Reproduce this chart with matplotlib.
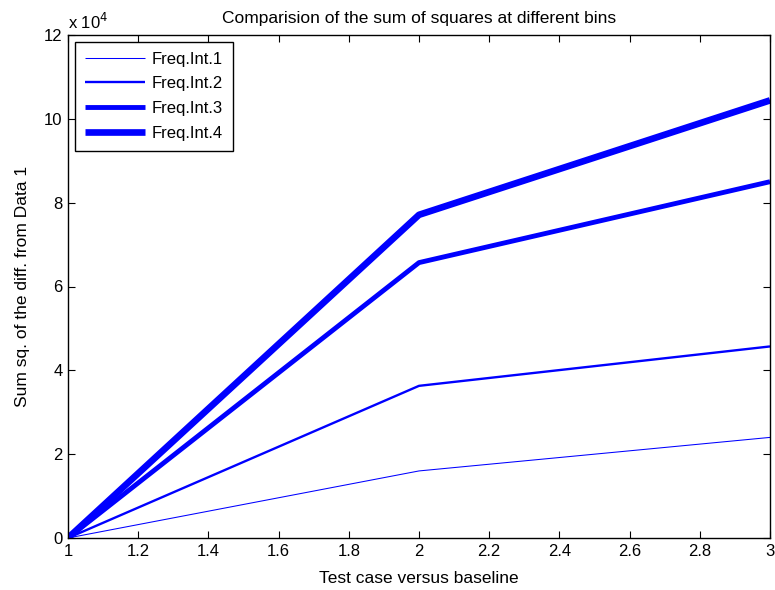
import matplotlib
matplotlib.use("Agg")
import matplotlib.pyplot as plt
from matplotlib.ticker import FuncFormatter

plt.rcParams['font.family'] = ['Liberation Sans', 'DejaVu Sans']

# Данные
cases = [1, 2, 3]
freq1 = [0, 16000, 24000]
freq2 = [0, 36300, 45700]
freq3 = [0, 65700, 85000]
freq4 = [0, 77100, 104400]
labels = ["Freq.Int.1", "Freq.Int.2", "Freq.Int.3", "Freq.Int.4"]
widths = [0.75, 1.7, 3.5, 4.8]

fig = plt.figure(figsize=(7.75, 5.9), dpi=100)
ax = fig.add_axes([68 / 775, 52 / 590, 702 / 775, 503 / 590])

for ys, lab, lw in zip([freq1, freq2, freq3, freq4], labels, widths):
    ax.plot(cases, ys, color="#0000ff", linewidth=lw, label=lab, solid_capstyle="butt")

ax.set_xlim(1, 3)
ax.set_ylim(0, 120000)
ax.set_xticks([1, 1.2, 1.4, 1.6, 1.8, 2, 2.2, 2.4, 2.6, 2.8, 3])
ax.set_yticks(range(0, 120001, 20000))
ax.xaxis.set_major_formatter(FuncFormatter(lambda v, p: "%g" % round(v, 1)))
ax.yaxis.set_major_formatter(FuncFormatter(lambda v, p: "%g" % (v / 1e4)))
ax.tick_params(direction="in", top=True, right=True, length=5, width=0.8, labelsize=12, pad=4)
for s in ax.spines.values():
    s.set_linewidth(1.0)

ax.text(0, 1.005, r"x 10$^{4}$", transform=ax.transAxes, fontsize=12, ha="left", va="bottom")
ax.set_title("Comparision of the sum of squares at different bins", fontsize=12.5, pad=9)
ax.set_xlabel("Test case versus baseline", fontsize=12.5, labelpad=9)
ax.set_ylabel("Sum sq. of the diff. from Data 1", fontsize=12.5, labelpad=10)

leg = ax.legend(loc="upper left", fontsize=12, fancybox=False, framealpha=1,
                edgecolor="black", handlelength=3.6, borderaxespad=0.4,
                borderpad=0.6, labelspacing=0.58, handletextpad=0.4)
leg.get_frame().set_linewidth(1.0)

fig.savefig("out.png", dpi=100)
